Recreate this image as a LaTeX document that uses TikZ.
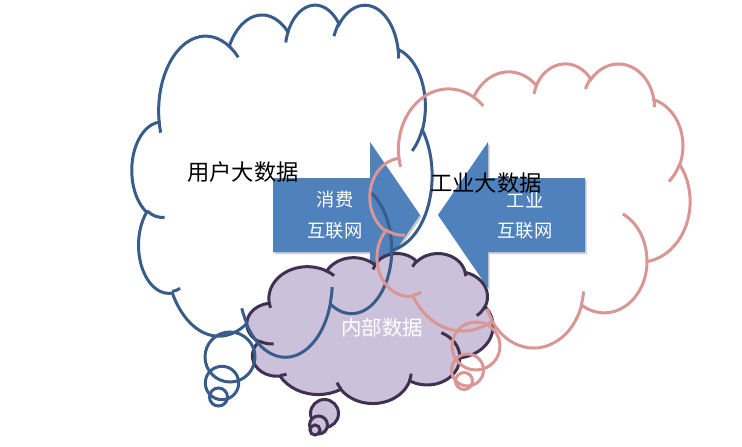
\documentclass[tikz,border=0pt]{standalone}
\usepackage{fontspec}
\newfontfamily\cjk{Noto Sans CJK SC}
\definecolor{cblue}{RGB}{56,93,138}
\definecolor{cpink}{RGB}{217,150,148}
\definecolor{cpurd}{RGB}{63,49,81}
\definecolor{cpurf}{RGB}{204,193,218}
\definecolor{carrow}{RGB}{79,129,189}
\tikzset{
  carc/.style n args={4}{%
    /utils/exec={%
      \pgfmathsetmacro\cTs{atan2((#1)*sin(#3),(#2)*cos(#3))}%
      \pgfmathsetmacro\cTe{atan2((#1)*sin((#3)+(#4)),(#2)*cos((#3)+(#4)))}%
      \pgfmathsetmacro\cD{\cTe-\cTs}%
      \pgfmathsetmacro\cD{\cD+360*round(((#4)-\cD)/360)}%
    },
    start angle=\cTs, delta angle=\cD, x radius=#1, y radius=#2},
  bluecloud/.style={draw=cblue, line width=3pt},
  pinkcloud/.style={draw=cpink, line width=3pt},
  purplecloud/.style={draw=cpurd, fill=cpurf, line width=3pt},
  arrowshape/.style={fill=carrow, draw=none},
  arrowshadow/.style={fill=black, opacity=0.2, draw=none},
  arrowtext/.style={text=white, font=\cjk\fontsize{18.3}{20}\selectfont, inner sep=0pt},
  bigtext/.style={text=black, font=\cjk\fontsize{22.3}{24}\selectfont, inner sep=0pt},
  inner/.style={text=white, font=\cjk\fontsize{20.5}{22}\selectfont, inner sep=0pt},
}
\newcommand\drawcloud[5]{%
  \begin{scope}[shift={(#1,#2)}, xscale=#3/432, yscale=#4/432]
    \path[#5] (39.00,143.70)
      arc[carc={67.53}{91.90}{-190.487483}{123.780533}]
      arc[carc={53.33}{72.67}{-144.102383}{89.945233}]
      arc[carc={43.65}{59.45}{-145.807917}{99.723017}]
      arc[carc={48.57}{65.95}{-130.986067}{117.241733}]
      arc[carc={53.33}{72.73}{-78.708883}{109.026917}]
      arc[carc={67.75}{92.20}{-46.26725}{130.269}]
      arc[carc={57.85}{78.67}{0.625017}{114.033333}]
      arc[carc={67.52}{92.15}{22.4516}{115.17255}]
      arc[carc={77.20}{105.43}{66.242633}{75.711017}]
      arc[carc={43.60}{59.18}{-274.942083}{146.735567}]
      arc[carc={43.45}{59.45}{-246.8285}{152.51885}]
      -- cycle;
    \path[#5, fill=none]
      (46.93,261.77) arc[carc={43.45}{59.45}{86.742}{26.4295}]
      (69.28,348.99) arc[carc={43.60}{59.18}{73.610467}{11.447467}]
      (164.78,390.90) arc[carc={67.52}{92.15}{137.62415}{14.0811}]
      (288.27,347.51) arc[carc={67.52}{92.15}{6.453267}{15.99835}]
      (341.29,229.54) arc[carc={57.85}{78.67}{-70.29235}{70.917367}]
      (417.98,153.54) arc[carc={53.33}{72.73}{30.318033}{27.7515}]
      (383.24,54.26) arc[carc={48.57}{65.95}{-13.744333}{14.8589}]
      (290.78,39.52) arc[carc={48.57}{65.95}{-149.18145}{18.195367}]
      (221.41,47.20) arc[carc={43.65}{59.45}{-163.494267}{17.68635}]
      (140.00,51.92) arc[carc={67.53}{91.90}{-66.70695}{12.31935}]
      (41.27,157.89) arc[carc={67.53}{91.90}{157.65435}{11.858167}];
  \end{scope}}
\begin{document}
\begin{tikzpicture}[x=1pt, y=-1pt]
  \useasboundingbox (0,0) rectangle (742,447);
  \fill[white] (0,0) rectangle (742,447);
  % arrows with light shadow
  \path[arrowshadow] (274.5,180) -- (371.5,180) -- (371.5,144) -- (421.5,217) -- (371.5,290) -- (371.5,254) -- (274.5,254) -- cycle;
  \path[arrowshadow] (586.5,180) -- (489.5,180) -- (489.5,144) -- (439.5,217) -- (489.5,290) -- (489.5,254) -- (586.5,254) -- cycle;
  \path[arrowshape] (273,178) -- (370,178) -- (370,142) -- (420,215) -- (370,288) -- (370,252) -- (273,252) -- cycle;
  \path[arrowshape] (585,178) -- (488,178) -- (488,142) -- (438,215) -- (488,288) -- (488,252) -- (585,252) -- cycle;
  \node[arrowtext] (xf) at (335,200) {消费};
  \node[arrowtext] (hl1) at (335,231) {互联网};
  \node[arrowtext] (gy) at (525,200) {工业};
  \node[arrowtext] (hl2) at (525,231) {互联网};
  % purple cloud
  \drawcloud{247}{253}{246}{150}{purplecloud}
  \draw[purplecloud] (324.5,413.5) circle[radius=14];
  \draw[purplecloud] (318.5,425) circle[radius=9];
  \draw[purplecloud] (315,430) circle[radius=5];
  % blue cloud
  \drawcloud{132}{4}{300}{352}{bluecloud}
  \draw[bluecloud] (230,357) circle[radius=25];
  \draw[bluecloud] (222,383) circle[radius=16.7];
  \draw[bluecloud] (218.5,397) circle[radius=9];
  % pink cloud
  \drawcloud{370}{63}{320}{284}{pinkcloud}
  \draw[pinkcloud] (476,346) circle[radius=24];
  \draw[pinkcloud] (467.5,370) circle[radius=16];
  \draw[pinkcloud] (464,381) circle[radius=8.5];
  % labels
  \node[bigtext] (user) at (243,172) {用户大数据};
  \node[bigtext] (ind) at (486,183) {工业大数据};
  \node[inner] (internal) at (382,328) {内部数据};
\end{tikzpicture}
\end{document}
